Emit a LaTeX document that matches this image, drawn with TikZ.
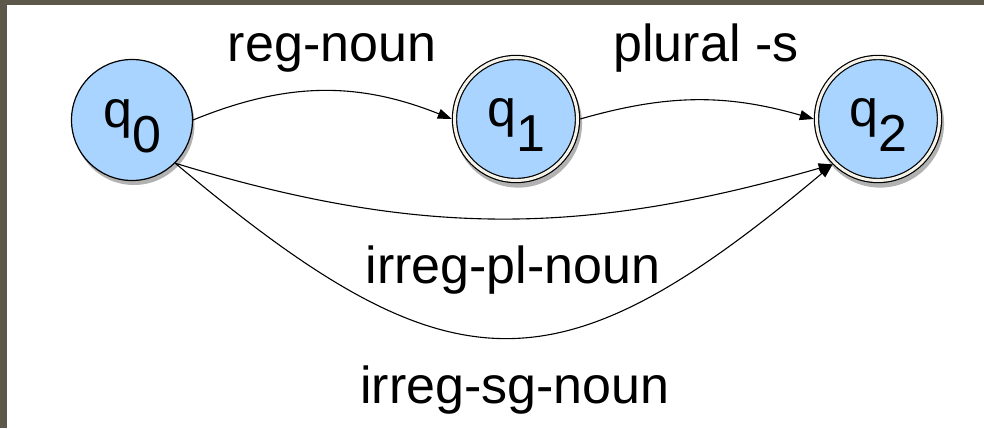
\documentclass[tikz,border=0pt]{standalone}
\usepackage{fontspec}
\setmainfont{Liberation Sans}
\usetikzlibrary{arrows.meta,shadows}
\definecolor{framecol}{RGB}{94,88,74}
\definecolor{qblue}{RGB}{168,212,255}
\definecolor{gapcol}{RGB}{246,244,234}
\newcommand\statelabel[1]{\smash{\lower7pt\hbox{q\lower25pt\hbox{#1}}}}
\begin{document}
\begin{tikzpicture}[x=1pt,y=1pt,
  base/.style={circle, fill=qblue, draw=black, line width=1.2pt, inner sep=0pt,
    font=\fontsize{52}{52}\selectfont},
  startnode/.style={base, minimum size=121pt,
    drop shadow={shadow xshift=2pt, shadow yshift=-4.5pt, opacity=0.6}},
  acceptnode/.style={base, minimum size=123pt, double=gapcol, double distance=3pt,
    outer sep=2.7pt,
    drop shadow={shadow scale=1.04, shadow xshift=2pt, shadow yshift=-4.5pt, opacity=0.6}},
  lbl/.style={font=\fontsize{52}{52}\selectfont, inner sep=0pt, anchor=base},
  trans/.style={draw=black, line width=1.1pt, -{Triangle[length=14pt,width=10pt]}},
]
\fill[framecol] (0,0) rectangle (984,-428);
\fill[white] (7,-5) rectangle (984,-428);
\useasboundingbox (0,0) rectangle (984,-428);

\node[startnode] (q0) at (132,-120) {\statelabel{0}};
\node[acceptnode] (q1) at (516,-119) {\statelabel{1}};
\node[acceptnode] (q2) at (878,-119) {\statelabel{2}};

\node[lbl] (l1) at (332,-62) {reg-noun};
\node[lbl] (l2) at (706,-62) {plural -s};
\node[lbl] (l3) at (513,-283) {irreg-pl-noun};
\node[lbl] (l4) at (515,-403) {irreg-sg-noun};

\draw[trans] (q0.east) to[bend left=22] (q1.west);
\draw[trans] (q1.east) to[bend left=16] (q2.west);
\draw[trans] (q0.-45) to[out=-17,in=196] (q2.-135);
\draw[trans] (q0.-45) to[out=-40,in=-140,looseness=1.4] (q2.-135);
\end{tikzpicture}
\end{document}
